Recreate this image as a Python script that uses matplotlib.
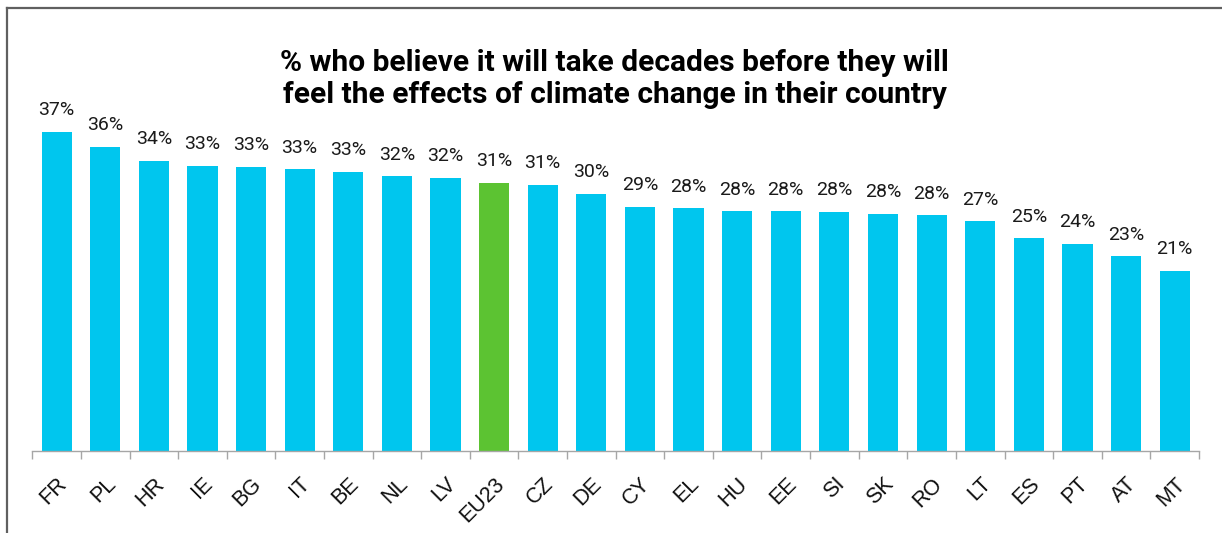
import matplotlib
matplotlib.use("Agg")
import matplotlib.pyplot as plt
from matplotlib.lines import Line2D
import numpy as np

categories = ["FR", "PL", "HR", "IE", "BG", "IT", "BE", "NL", "LV", "EU23", "CZ", "DE",
              "CY", "EL", "HU", "EE", "SI", "SK", "RO", "LT", "ES", "PT", "AT", "MT"]
values = [37.4, 35.6, 34.0, 33.4, 33.3, 33.0, 32.7, 32.2, 32.0, 31.4, 31.2, 30.1,
          28.6, 28.4, 28.1, 28.1, 28.0, 27.8, 27.6, 26.9, 24.9, 24.3, 22.8, 21.1]
labels = ["37%", "36%", "34%", "33%", "33%", "33%", "33%", "32%", "32%", "31%", "31%", "30%",
          "29%", "28%", "28%", "28%", "28%", "28%", "28%", "27%", "25%", "24%", "23%", "21%"]
title = "% who believe it will take decades before they will\nfeel the effects of climate change in their country"

W, H = 1222, 533
fig = plt.figure(figsize=(W / 100, H / 100), dpi=100)
ax = fig.add_axes([32.3 / W, 81.7 / H, (1199 - 32.3) / W, 381.3 / H])

x = np.arange(len(categories))
colors = ["#5CC332" if c == "EU23" else "#00C6EE" for c in categories]
bars = ax.bar(x, values, width=0.62, color=colors, edgecolor="none")

for xi, v, lab in zip(x, values, labels):
    ax.annotate(lab, (xi, v), xytext=(0, 9), textcoords="offset points",
                ha="center", va="bottom", fontsize=14, family="Roboto", color="#1a1a1a")

ax.set_xlim(-0.5, len(categories) - 0.5)
ax.set_ylim(0, 44.6)
for s in ["top", "right", "left"]:
    ax.spines[s].set_visible(False)
ax.spines["bottom"].set_color("#A6A6A6")
ax.spines["bottom"].set_linewidth(1.0)
ax.set_yticks([])
ax.set_xticks(x)
ax.set_xticklabels(categories, rotation=45, ha="right", rotation_mode="anchor",
                   fontsize=15.5, family="Liberation Sans", color="#111111")
ax.tick_params(axis="x", which="major", length=0, pad=16)
ax.set_xticks(np.arange(-0.5, len(categories)), minor=True)
ax.tick_params(axis="x", which="minor", length=5.5, color="#A6A6A6", width=1.0)

fig.text(0.503, 1 - 79 / H, title, ha="center", va="center", fontsize=21.5,
         fontweight="bold", family="Roboto", linespacing=1.15, color="#000000")

fig.add_artist(Line2D([7 / W, 1], [1 - 8 / H, 1 - 8 / H], color="#606060", lw=1.6,
                      transform=fig.transFigure))
fig.add_artist(Line2D([7 / W, 7 / W], [1 - 8 / H, 0], color="#606060", lw=1.6,
                      transform=fig.transFigure))

fig.savefig("out.png", dpi=100)
